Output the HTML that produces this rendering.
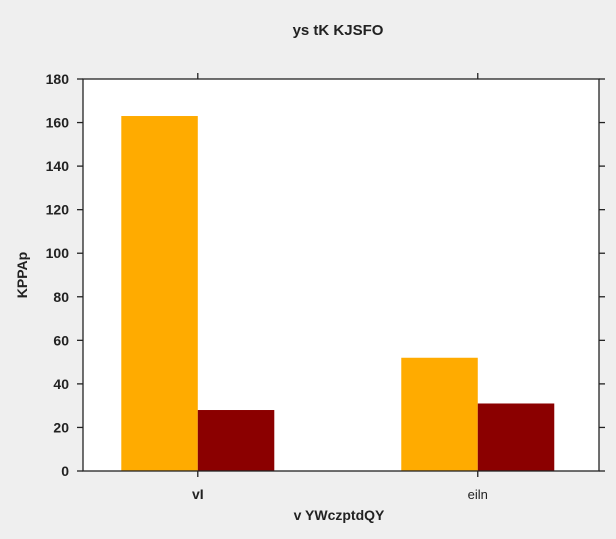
<!DOCTYPE html>
<html><head><meta charset="utf-8"><style>
body{margin:0;background:#efefef;}
svg{display:block;font-family:"Liberation Sans",sans-serif;}
</style></head><body>
<svg id="chart" width="616" height="539">
<rect width="616" height="539" fill="#efefef"/>
<text x="338" y="35" text-anchor="middle" font-size="15" font-weight="bold" fill="#222">ys  tK KJSFO</text>
<rect x="83" y="79" width="516" height="392" fill="#fff"/>
<g id="bars"></g>
<g id="axes"></g>
<text x="339" y="520" text-anchor="middle" font-size="14" font-weight="bold" fill="#222">v YWczptdQY</text>
<text transform="translate(27,275) rotate(-90)" text-anchor="middle" font-size="14" font-weight="bold" fill="#222">KPPAp</text>
</svg>
<script>
const categories=["vI","eiln"];
const seriesA=[163,52];
const seriesB=[28,31];
const yTicks=[0,20,40,60,80,100,120,140,160,180];
const NS="http://www.w3.org/2000/svg";
const L=83,R=599,T=79,B=471,yMax=180;
const y=v=>B-(v/yMax)*(B-T);
// x domain: -0.41 .. 1.43 (category index)
const xMin=-0.41,xMax=1.433;
const cx=i=>L+(i-xMin)/(xMax-xMin)*(R-L);
const bw=76.5;
function mk(tag,attrs,parent){const e=document.createElementNS(NS,tag);for(const k in attrs)e.setAttribute(k,attrs[k]);parent.appendChild(e);return e;}
const bars=document.getElementById('bars'),axes=document.getElementById('axes');
categories.forEach((c,i)=>{
  let r=mk('rect',{x:cx(i)-bw,y:y(seriesA[i]),width:bw,height:B-y(seriesA[i]),fill:'#ffab00'},bars);
  
  
  r=mk('rect',{x:cx(i),y:y(seriesB[i]),width:bw,height:B-y(seriesB[i]),fill:'#8b0000'},bars);
  
  
  mk('line',{x1:cx(i),x2:cx(i),y1:B,y2:B+6,stroke:'#222','stroke-width':1.3},axes);
  mk('line',{x1:cx(i),x2:cx(i),y1:T,y2:T-6,stroke:'#222','stroke-width':1.3},axes);
  const t=mk('text',{x:cx(i),y:B+28,'text-anchor':'middle','font-size':i==0?14:13,'font-weight':i==0?'bold':'normal',fill:'#222'},axes);
  t.textContent=c;
  
  
});
yTicks.forEach(v=>{
  mk('line',{x1:L-6,x2:L,y1:y(v),y2:y(v),stroke:'#222','stroke-width':1.3},axes);
  mk('line',{x1:R,x2:R+6,y1:y(v),y2:y(v),stroke:'#222','stroke-width':1.3},axes);
  const t=mk('text',{x:L-14,y:y(v)+5,'text-anchor':'end','font-size':14,'font-weight':'bold',fill:'#222'},axes);
  t.textContent=v;
  
  
});
const f=mk('rect',{x:L,y:T,width:R-L,height:B-T,fill:'none',stroke:'#222','stroke-width':1.3},axes);


</script>
</body></html>
